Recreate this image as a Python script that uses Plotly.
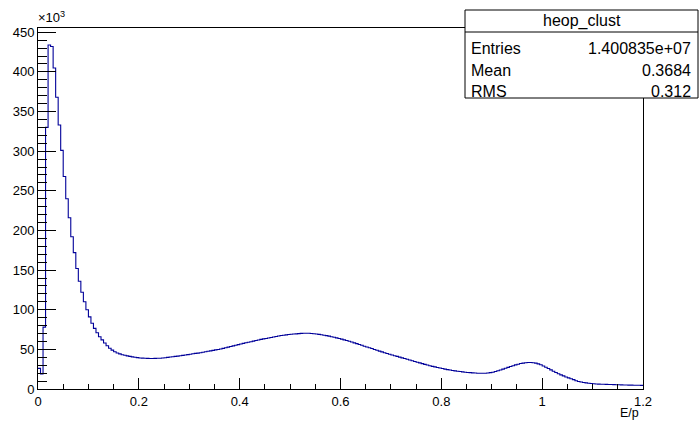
import plotly.graph_objects as go

# Histogram heop_clust: 240 bins of width 0.005 on [0, 1.2]; contents in units of 10^3
bin_low = 0.0
bin_width = 0.005
counts_k = [
    26, 19, 78, 330, 434, 432, 405, 368, 333, 301,
    268, 240, 216, 192, 172, 152, 136, 122, 110, 100,
    91, 83, 76.5, 71, 66, 62, 58, 54.5, 51.5, 49,
    47, 45.5, 44.3, 43.3, 42.5, 41.8, 41.1, 40.5, 40, 39.6,
    39.2, 38.9, 38.7, 38.6, 38.5, 38.5, 38.6, 38.7, 38.8, 39.1,
    39.5, 39.9, 40.3, 40.7, 41.1, 41.5, 42.0, 42.4, 42.9, 43.4,
    43.9, 44.4, 44.9, 45.3, 45.8, 46.4, 47.0, 47.6, 48.1, 48.7,
    49.3, 49.8, 50.4, 51.2, 52.0, 52.8, 53.6, 54.4, 55.2, 56.0,
    56.8, 57.5, 58.3, 59.0, 59.7, 60.4, 61.1, 61.8, 62.6, 63.2,
    63.8, 64.4, 65.0, 65.6, 66.2, 66.8, 67.5, 67.9, 68.3, 68.7,
    69.0, 69.3, 69.6, 69.9, 70.2, 70.3, 70.4, 70.3, 70.0, 69.7,
    69.3, 68.9, 68.4, 67.9, 67.3, 66.7, 66.0, 65.3, 64.5, 63.7,
    62.9, 62.0, 61.1, 60.2, 59.2, 58.2, 57.2, 56.2, 55.1, 54.0,
    53.0, 52.0, 51.0, 49.9, 48.9, 47.8, 46.8, 45.8, 44.8, 43.8,
    42.9, 42.0, 41.1, 40.2, 39.3, 38.4, 37.5, 36.5, 35.6, 34.7,
    33.8, 32.9, 32.0, 31.1, 30.2, 29.3, 28.6, 27.9, 27.2, 26.5,
    25.8, 25.1, 24.5, 23.9, 23.4, 22.9, 22.4, 22.0, 21.6, 21.2,
    20.9, 20.6, 20.3, 20.1, 19.9, 19.8, 19.8, 19.9, 20.2, 20.6,
    21.2, 22.0, 23.0, 24.0, 25.1, 26.2, 27.3, 28.4, 29.4, 30.4,
    31.3, 32.1, 32.7, 33.2, 33.5, 33.5, 33.2, 32.6, 31.7, 30.5,
    29.1, 27.5, 25.8, 24.1, 22.4, 20.8, 19.2, 17.8, 16.5, 15.2,
    14.0, 12.9, 11.8, 10.5, 9.5, 8.8, 8.2, 7.7, 7.2, 6.9,
    6.6, 6.4, 6.2, 6.0, 5.9, 5.8, 5.7, 5.6, 5.5, 5.4,
    5.3, 5.2, 5.1, 5.0, 4.9, 4.85, 4.8, 4.7, 4.65, 4.6,
]
hist_name = "heop_clust"
stat_labels = ["Entries", "Mean", "RMS"]
stat_values = ["1.400835e+07", "0.3684", "0.312"]
x_title = "E/p"
x_ticks = [0, 0.2, 0.4, 0.6, 0.8, 1.0, 1.2]
x_tick_text = ["0", "0.2", "0.4", "0.6", "0.8", "1", "1.2"]
y_ticks = [0, 50, 100, 150, 200, 250, 300, 350, 400, 450]

n = len(counts_k)
edges = [bin_low + i * bin_width for i in range(n + 1)]
xs = edges
ys = counts_k + [counts_k[-1]]

W, H = 699, 421
L, R, T, B = 38, 56, 28, 32
pw, ph = W - L - R, H - T - B


def px(p):
    return (p - L) / pw


def py(p):
    return (H - B - p) / ph


FONT = "Liberation Sans, Arial, Helvetica, sans-serif"

fig = go.Figure()
fig.add_trace(go.Scatter(
    x=xs, y=ys, mode="lines", line=dict(shape="hv", color="#000099", width=1.1),
    hoverinfo="skip", showlegend=False,
))

fig.update_layout(
    width=W, height=H,
    margin=dict(l=L, r=R, t=T, b=B, pad=0, autoexpand=False),
    paper_bgcolor="white", plot_bgcolor="white",
    font=dict(family=FONT, size=13, color="black"),
    showlegend=False,
)
fig.update_xaxes(
    range=[0, 1.2], tickvals=x_ticks, ticktext=x_tick_text,
    ticks="inside", ticklen=11, tickwidth=1, tickcolor="black",
    minor=dict(dtick=0.05, tick0=0, ticks="inside", ticklen=5.5, tickcolor="black", tickwidth=1),
    showline=True, linecolor="black", linewidth=1, mirror=True,
    showgrid=False, zeroline=False, automargin=False,
    tickfont=dict(family=FONT, size=13),
)
fig.update_yaxes(
    range=[0, 455.4], tickvals=y_ticks,
    ticks="inside", ticklen=18, tickwidth=1, tickcolor="black",
    minor=dict(dtick=10, tick0=0, ticks="inside", ticklen=9, tickcolor="black", tickwidth=1),
    showline=True, linecolor="black", linewidth=1, mirror=True,
    showgrid=False, zeroline=False, automargin=False,
    tickfont=dict(family=FONT, size=13),
)

# stats box
bx0, bx1, by0, by1, bsep = 465, 698, 10, 98, 32
fig.add_shape(type="rect", xref="paper", yref="paper",
              x0=px(bx0), x1=px(bx1), y0=py(by1), y1=py(by0),
              line=dict(color="black", width=1), fillcolor="white", layer="above")
fig.add_shape(type="line", xref="paper", yref="paper",
              x0=px(bx0), x1=px(bx1), y0=py(bsep), y1=py(bsep),
              line=dict(color="black", width=1), layer="above")
fig.add_annotation(xref="paper", yref="paper", x=px((bx0 + bx1) / 2), y=py(21),
                   text=hist_name, showarrow=False, xanchor="center", yanchor="middle",
                   font=dict(family=FONT, size=16))
row_y = [48, 70, 91]
for lab, val, ry in zip(stat_labels, stat_values, row_y):
    fig.add_annotation(xref="paper", yref="paper", x=px(469), y=py(ry), text=lab,
                       showarrow=False, xanchor="left", yanchor="middle",
                       font=dict(family=FONT, size=16))
    fig.add_annotation(xref="paper", yref="paper", x=px(693), y=py(ry), text=val,
                       showarrow=False, xanchor="right", yanchor="middle",
                       font=dict(family=FONT, size=16))

fig.add_annotation(xref="paper", yref="paper", x=px(641), y=py(413), text=x_title,
                   showarrow=False, xanchor="right", yanchor="middle",
                   font=dict(family=FONT, size=12.5))
fig.add_annotation(xref="paper", yref="paper", x=px(36), y=py(17), text="×10<sup>3</sup>",
                   showarrow=False, xanchor="left", yanchor="middle",
                   font=dict(family=FONT, size=13))

fig.write_html("out.html", config={"displayModeBar": False},
               post_script="document.body.style.margin='0px';document.body.style.overflow='hidden';")
